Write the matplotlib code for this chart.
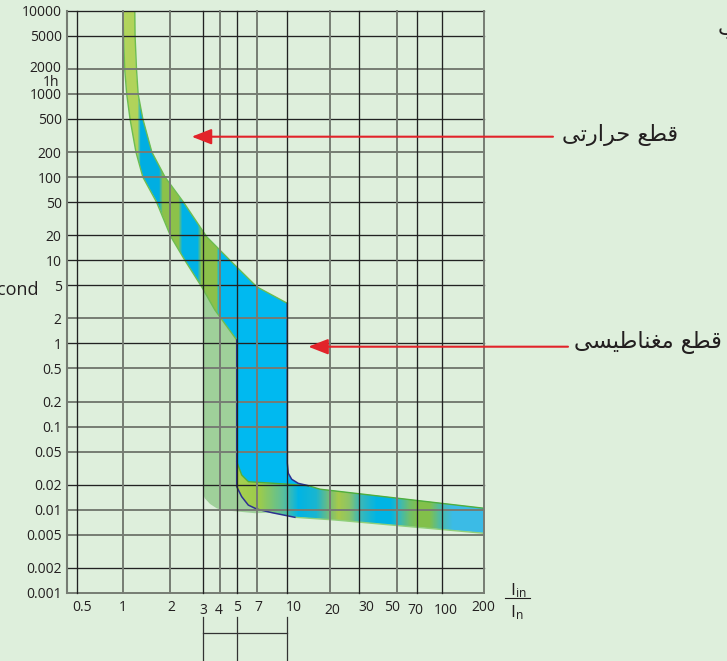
import numpy as np
import matplotlib
matplotlib.use('Agg')
import matplotlib.pyplot as plt
from matplotlib.path import Path
from matplotlib.patches import FancyArrowPatch, Polygon
from matplotlib.lines import Line2D
from matplotlib.colors import ListedColormap, to_rgb
from matplotlib.ticker import NullLocator
import matplotlib.transforms as mtransforms

plt.rcParams['font.family'] = ['Open Sans', 'DejaVu Sans']
plt.rcParams['mathtext.fontset'] = 'custom'
plt.rcParams['mathtext.rm'] = 'Open Sans'
plt.rcParams['mathtext.it'] = 'Open Sans'

# ---------------- data ----------------
y_ticks = [10000, 5000, 2000, 1000, 500, 200, 100, 50, 20, 10, 5, 2, 1,
           0.5, 0.2, 0.1, 0.05, 0.02, 0.01, 0.005, 0.002, 0.001]
y_labels = ['10000', '5000', '2000', '1000', '500', '200', '100', '50', '20',
            '10', '5', '2', '1', '0.5', '0.2', '0.1', '0.05', '0.02', '0.01',
            '0.005', '0.002', '0.001']
x_ticks = [0.5, 1, 2, 3, 4, 5, 7, 10, 20, 30, 50, 70, 100, 200]
x_labels = ['0.5', '1', '2', '3', '4', '5', '7', '10', '20', '30', '50', '70',
            '100', '200']

# thermal trip band (multiple of In, seconds)
therm_lo_x = [1.0, 1.009, 1.025, 1.056, 1.109, 1.21, 1.34, 1.64, 2.02, 2.40, 2.95, 3.67, 5.0]
therm_lo_t = [10000, 5000, 2000, 1000, 500, 200, 100, 50, 19.2, 10, 4.8, 2.52, 1.10]
therm_hi_x = [1.19, 1.195, 1.22, 1.25, 1.34, 1.53, 1.86, 2.36, 3.19, 4.57, 6.97, 10.0]
therm_hi_t = [10000, 5000, 2000, 1000, 500, 200, 100, 50, 19.2, 10, 4.8, 3.04]

# magnetic zone right limit (x = 10 In)
mag_hi_x = [10.0, 10.0, 10.16, 10.74, 11.95, 14.06]
mag_hi_t = [3.04, 0.0365, 0.0275, 0.0233, 0.0208, 0.0195]

# short-circuit band
low_up_x = [5.0, 5.43, 6.06, 7.1, 10.16, 14.06, 17.0, 200]
low_up_t = [0.038, 0.0262, 0.0218, 0.0214, 0.0203, 0.0195, 0.0177, 0.01044]
low_dn_x = [5.0, 5.0, 5.43, 6.06, 6.98, 8.32, 11.3, 21.4, 200]
low_dn_t = [1.10, 0.019, 0.0144, 0.0114, 0.0102, 0.00925, 0.00813, 0.00755, 0.00522]

# light green zone (3 In .. 5 In)
lg_x = [3.0, 3.67, 5.0, 5.0, 5.43, 6.06, 6.98, 8.32, 6.77, 4.09, 3.78, 3.38, 3.09, 3.0]
lg_t = [4.6, 2.52, 1.10, 0.019, 0.0144, 0.0114, 0.0102, 0.00925, 0.0091, 0.00995,
        0.01044, 0.01175, 0.01377, 0.0158]

# colour stripes along the bands
up_stops_x = [0.9, 1.24, 1.30, 1.70, 1.80, 2.22, 2.33, 2.80, 2.95, 3.78, 3.95, 12]
up_stops_c = ['#b4d45e', '#b0d35a', '#00aee2', '#00aee2', '#8cc14a', '#8cc14a',
              '#00b2e6', '#00b2e6', '#8cc04a', '#8cc04a', '#00b9f0', '#00b9f0']
lo_stops_x = [4.9, 7.2, 9.5, 12, 16, 19.5, 22.5, 26, 30, 38, 46, 53, 62, 72, 84, 97, 120, 205]
lo_stops_c = ['#a8d050', '#9ccb4b', '#5bbf9a', '#00b4e4', '#19b5d0', '#6fbd7e',
              '#a5c94c', '#8cc467', '#3fb8b4', '#00b4e4', '#00b4e4', '#3cb9b4',
              '#6fbf6a', '#82c04a', '#82c04a', '#4fbba2', '#3bbbe6', '#3bbbe6']

thermal_label = '\ufef0\ufe97\ufead\ufe8d\ufeae\ufea3 \ufeca\ufec4\ufed7'          # قطع حرارتی
magnetic_label = '\ufef0\ufeb4\ufef4\ufec3\ufe8e\ufee8\ufed0\ufee3 \ufeca\ufec4\ufed7'  # قطع مغناطیسی

# ---------------- layout / style ----------------
W, H = 727, 661
BG = '#deefdc'
TXT = '#231f20'
BLUE = '#00b9f0'
DARK, GRAY = '#222222', '#767c73'
x_grid_px = [77, 123, 170, 203, 220, 236.7, 257, 287.3, 330, 359.3, 396.7, 416.7, 441.7, 484]
y_dark = {10000, 5000, 500, 50, 20, 10, 5, 1, 0.02, 0.002}
x_dark = {0.5, 3, 5, 10, 30, 70, 100}
x_lab_dx = [5, 0, 1.7, 0, -1, 0, 1, 6.7, 2, 6.7, -4.7, -1.7, 4.3, -1]
x_lab_low = {3, 4, 20, 70, 100}

fig = plt.figure(figsize=(W / 100, H / 100), dpi=100)
fig.patch.set_facecolor(BG)
ax = fig.add_axes([66.7 / W, 1 - 593 / H, (484 - 66.7) / W, (593 - 10.7) / H])
ax.set_facecolor(BG)

LV = np.log10(np.array(x_ticks, float))
PX = np.array(x_grid_px, float)
s0 = (PX[1] - PX[0]) / (LV[1] - LV[0])
s1 = (PX[-1] - PX[-2]) / (LV[-1] - LV[-2])
LVe = np.r_[LV[0] - 2, LV, LV[-1] + 2]
PXe = np.r_[PX[0] - 2 * s0, PX, PX[-1] + 2 * s1]


def fwd(x):
    x = np.asarray(x, float)
    with np.errstate(divide='ignore', invalid='ignore'):
        lx = np.log10(np.where(x > 0, x, 1e-9))
    return np.interp(lx, LVe, PXe)


def inv(p):
    return 10 ** np.interp(np.asarray(p, float), PXe, LVe)


ax.set_xscale('function', functions=(fwd, inv))
ax.set_yscale('log')
ax.set_xlim(float(inv(66.7)), 200)
ax.set_ylim(0.001, 10000)


def band_mesh(xmin, xmax, sx, sc, verts, z):
    xe = np.geomspace(xmin, xmax, 600)
    xc = np.sqrt(xe[:-1] * xe[1:])
    rgb = np.array([to_rgb(c) for c in sc])
    lx = np.log10(xc)
    lsx = np.log10(sx)
    cols = np.column_stack([np.interp(lx, lsx, rgb[:, k]) for k in range(3)])
    cmap = ListedColormap(cols)
    C = np.arange(len(xc))[None, :]
    m = ax.pcolormesh(xe, [1e-4, 1e5], C, cmap=cmap, vmin=-0.5, vmax=len(xc) - 0.5,
                      shading='flat', antialiased=False, edgecolors='none', zorder=z)
    m.set_clip_path(Path(verts), ax.transData)
    return m


# light green zone
ax.add_patch(Polygon(list(zip(lg_x, lg_t)), closed=True, fc='#9fd09a', ec='none', zorder=1.5))

# thermal band
up_verts = list(zip(therm_lo_x, therm_lo_t)) + list(zip(therm_hi_x, therm_hi_t))[::-1]
band_mesh(0.9, 12, up_stops_x, up_stops_c, up_verts, 1.6)

# magnetic zone
mag_verts = ([(therm_lo_x[-1], therm_lo_t[-1]), (therm_hi_x[-2], therm_hi_t[-2])]
             + list(zip(mag_hi_x, mag_hi_t)) + list(zip(low_up_x[:5], low_up_t[:5]))[::-1])
ax.add_patch(Polygon(mag_verts, closed=True, fc=BLUE, ec='none', zorder=1.7))

# short-circuit band
lo_verts = list(zip(low_up_x, low_up_t)) + list(zip(low_dn_x[1:], low_dn_t[1:]))[::-1]
band_mesh(4.9, 205, lo_stops_x, lo_stops_c, lo_verts, 1.8)

# outlines
ax.plot(therm_lo_x, therm_lo_t, color='#6cbd50', lw=1.0, zorder=2)
ax.plot(therm_hi_x, therm_hi_t, color='#6cbd50', lw=1.0, zorder=2)
ax.plot(low_up_x, low_up_t, color='#4fae3c', lw=1.0, zorder=2)
ax.plot(low_dn_x[6:], low_dn_t[6:], color='#8fcf7a', lw=1.0, zorder=2)
ax.plot(low_dn_x[:7], low_dn_t[:7], color='#2e3192', lw=1.1, zorder=2.1)
ax.plot(mag_hi_x, mag_hi_t, color='#2e3192', lw=1.1, zorder=2.1)

# grid (drawn over the bands)
for yv in y_ticks:
    dk = yv in y_dark
    ax.axhline(yv, color=DARK if dk else GRAY, lw=0.95 if dk else 1.4, zorder=5, clip_on=False)
for xv in x_ticks:
    dk = xv in x_dark
    ax.axvline(xv, color=DARK if dk else GRAY, lw=0.95 if dk else 1.4, zorder=5, clip_on=False)

for s in ['top', 'right', 'bottom']:
    ax.spines[s].set_visible(False)
ax.spines['left'].set_color(GRAY)
ax.spines['left'].set_linewidth(1.5)
ax.spines['left'].set_zorder(6)

ax.set_yticks(y_ticks)
ax.set_yticklabels(y_labels)
ax.yaxis.set_minor_locator(NullLocator())
ax.tick_params(axis='y', length=0, pad=3.6, labelsize=10, labelcolor=TXT)
ax.set_xticks([])
ax.xaxis.set_minor_locator(NullLocator())
# the 2000 label sits a little higher in the original
for lab in ax.get_yticklabels():
    if lab.get_text() == '2000':
        lab.set_transform(lab.get_transform() + mtransforms.Affine2D().translate(0, 2.5))

# x labels
xb = mtransforms.blended_transform_factory(ax.transData, fig.transFigure)
for xv, lab, dx in zip(x_ticks, x_labels, x_lab_dx):
    yb = 613.5 if xv in x_lab_low else 611
    tr = mtransforms.offset_copy(xb, fig=fig, x=dx, y=0, units='dots')
    ax.text(xv, 1 - yb / H, lab, transform=tr, ha='center', va='baseline',
            fontsize=10, color=TXT, clip_on=False)

# bracket below 3 / 5 / 10
for xv in [3, 5, 10]:
    ax.plot([xv, xv], [1 - 616.7 / H, 1 - 660 / H], transform=xb, color='#333333', lw=0.9, clip_on=False)
ax.plot([3, 10], [1 - 633.3 / H, 1 - 633.3 / H], transform=xb, color='#333333', lw=0.9, clip_on=False)

# I_in / I_n
fig.text(518 / W, 1 - 591 / H, r'$\mathrm{I}_{\mathrm{in}}$', ha='center', va='center',
         fontsize=12.5, color=TXT)
fig.text(517 / W, 1 - 613 / H, r'$\mathrm{I}_{\mathrm{n}}$', ha='center', va='center',
         fontsize=12.5, color=TXT)
fig.add_artist(Line2D([505 / W, 529.5 / W], [1 - 597.5 / H] * 2, transform=fig.transFigure,
                      color=TXT, lw=0.8))

fig.text(59.3 / W, 1 - 82 / H, '1h', ha='right', va='center', fontsize=10, color=TXT)
fig.text(38.5 / W, 1 - 290 / H, 'Second', ha='right', va='center', fontsize=13, color=TXT)
fig.text(718 / W, 1 - 28 / H, '\ufe8f', ha='left', va='center', fontsize=15, color=TXT,
         family='DejaVu Sans')

# annotations
RED = '#e2232a'
t1 = fig.text(678 / W, 1 - 135 / H, thermal_label, ha='right', va='center', fontsize=14,
              color=TXT, family='DejaVu Sans')
t2 = fig.text(721.7 / W, 1 - 343 / H, magnetic_label, ha='right', va='center', fontsize=14,
              color=TXT, family='DejaVu Sans')
fig.canvas.draw()
r = fig.canvas.get_renderer()
for t, wt in [(t1, 117), (t2, 150)]:
    w = t.get_window_extent(r).width
    t.set_fontsize(14 * wt / w)

for (x0, x1, yy) in [(553, 191.7, 136.7), (568, 308.3, 346.7)]:
    arr = FancyArrowPatch((x0 / W, 1 - yy / H), (x1 / W, 1 - yy / H), transform=fig.transFigure,
                          arrowstyle='-|>,head_length=12,head_width=4.7', mutation_scale=1,
                          color=RED, lw=1.5, shrinkA=0, shrinkB=0, zorder=10)
    fig.add_artist(arr)

fig.savefig('out.png', dpi=100, facecolor=BG)
